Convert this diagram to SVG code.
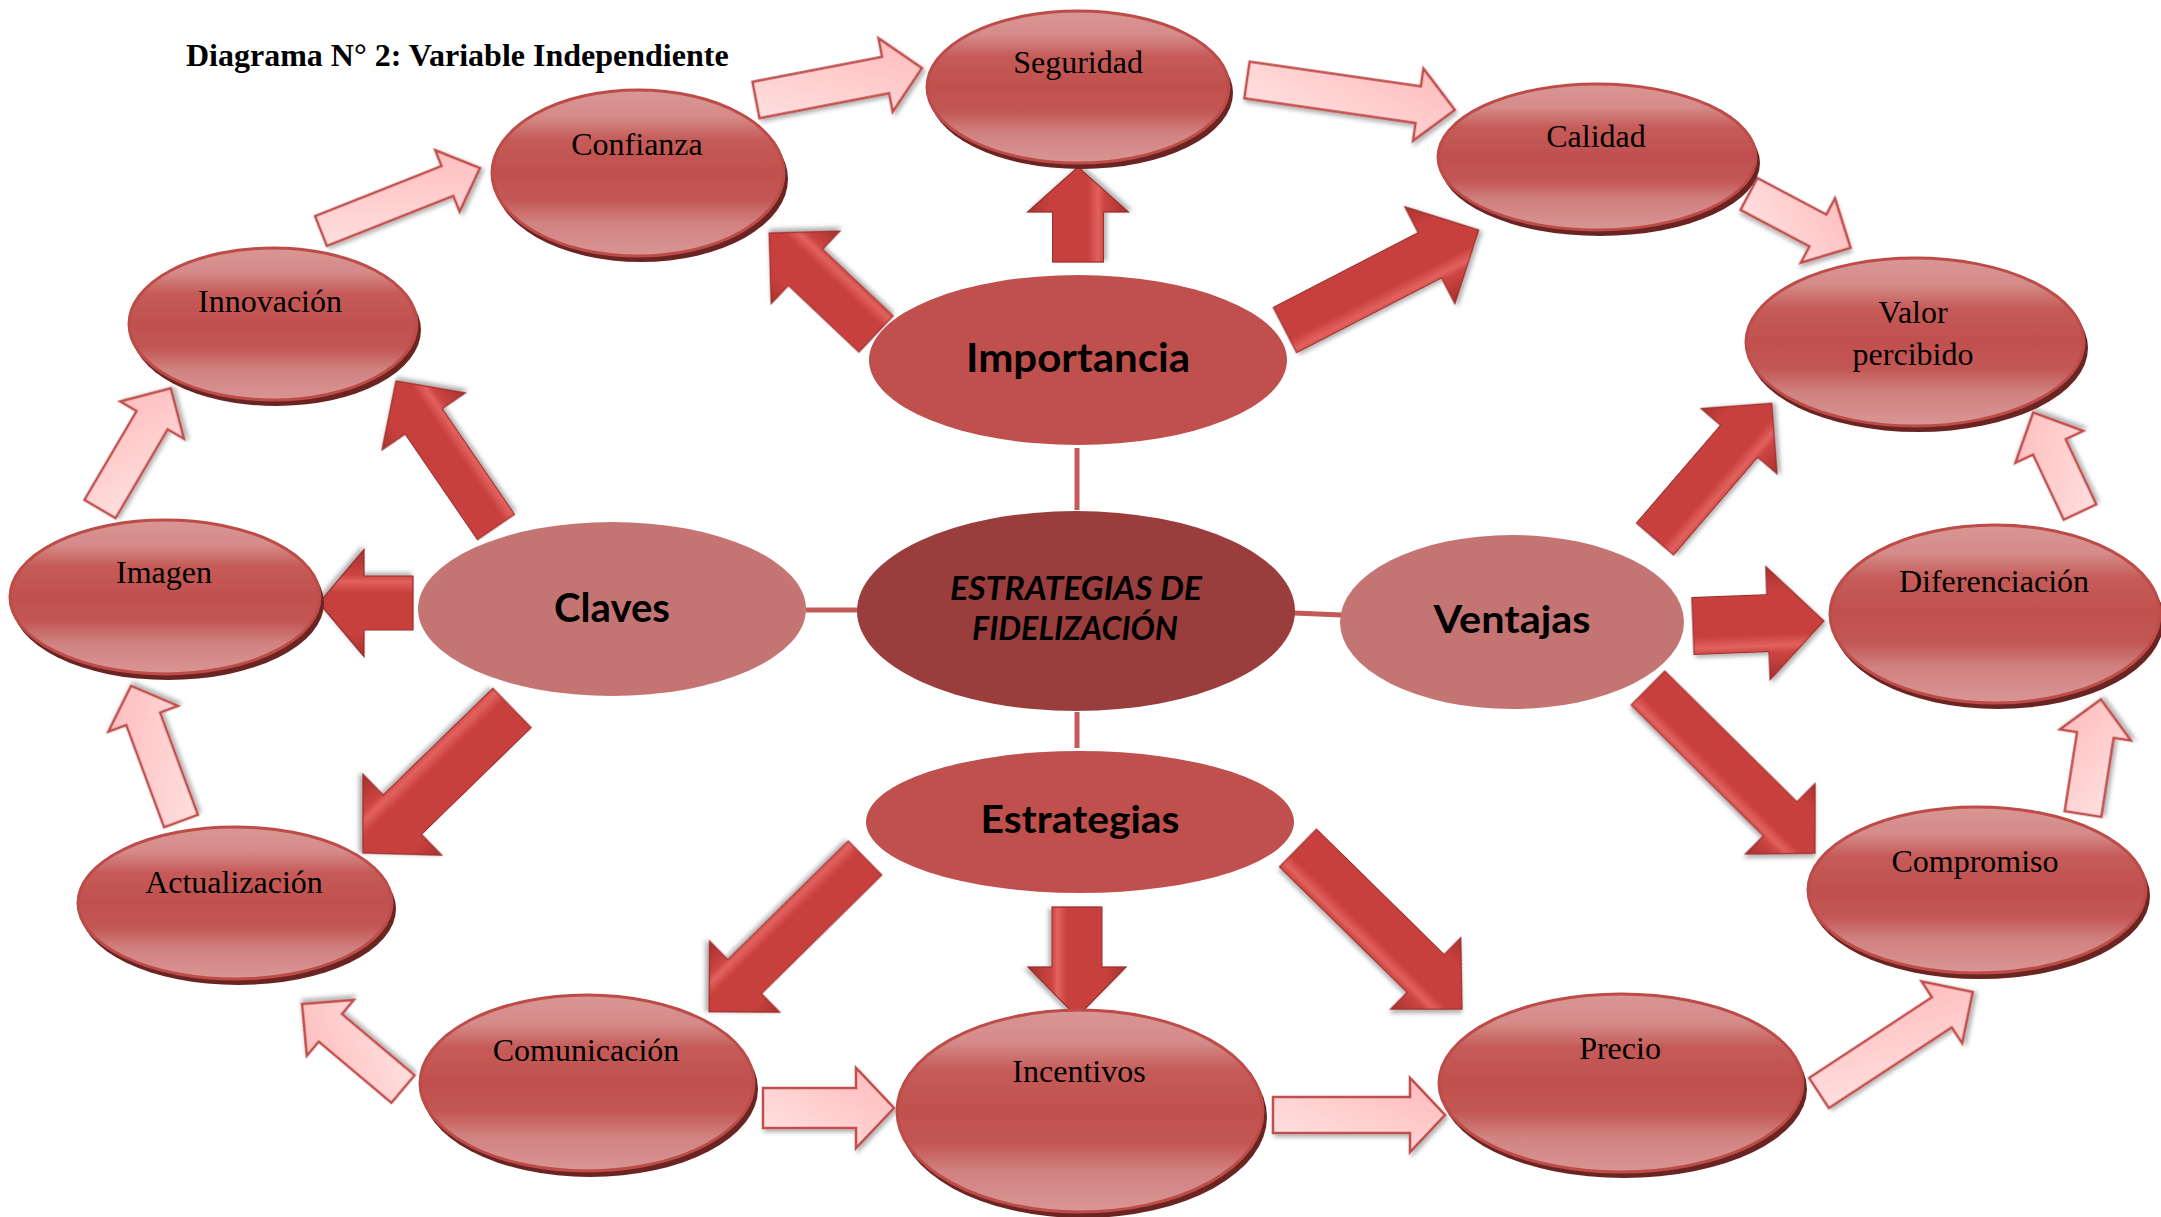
<svg xmlns="http://www.w3.org/2000/svg" width="2161" height="1217" viewBox="0 0 2161 1217">
  <defs>
    <!-- glossy band shading for the outer concept ellipses -->
    <linearGradient id="gOuter" x1="0" y1="0" x2="0" y2="1">
      <stop offset="0" stop-color="#d99694"/>
      <stop offset="0.16" stop-color="#d58b89"/>
      <stop offset="0.3" stop-color="#c55b58"/>
      <stop offset="0.5" stop-color="#c0504d"/>
      <stop offset="0.66" stop-color="#c35754"/>
      <stop offset="0.8" stop-color="#d08280"/>
      <stop offset="1" stop-color="#d99694"/>
    </linearGradient>
    <!-- pale arrows of the outer ring -->
    <linearGradient id="gLight" x1="0" y1="1" x2="1" y2="0">
      <stop offset="0" stop-color="#ffe4e4"/>
      <stop offset="1" stop-color="#ffb9b9"/>
    </linearGradient>
    <!-- bevelled block arrows -->
    <linearGradient id="gDark" x1="0" y1="0" x2="0" y2="1">
      <stop offset="0" stop-color="#a93330"/>
      <stop offset="0.22" stop-color="#c8403d"/>
      <stop offset="0.6" stop-color="#c8403d"/>
      <stop offset="0.7" stop-color="#e2625f"/>
      <stop offset="0.76" stop-color="#cc4542"/>
      <stop offset="1" stop-color="#a5302e"/>
    </linearGradient>
    <filter id="shadow" x="-20%" y="-20%" width="140%" height="140%">
      <feDropShadow dx="2" dy="3" stdDeviation="2" flood-color="#000" flood-opacity="0.3"/>
    </filter>
    <style>
      .outer { fill: url(#gOuter); stroke: #bd4b48; stroke-width: 3; }
      .rim { fill: #6a2422; }
      .hub { stroke: none; }
      .light { fill: url(#gLight); stroke: #c0504d; stroke-width: 2.5; stroke-linejoin: miter; filter: url(#shadow); }
      .dark { fill: url(#gDark); stroke: #9a2e2c; stroke-width: 1.2; filter: url(#shadow); }
      .link { stroke: #c35a57; stroke-width: 5; fill: none; }
      .lbl { font-family: "Liberation Serif", "Times New Roman", serif; font-size: 32px; fill: #000; text-anchor: middle; }
      .hubtxt { font-family: Lato, "Open Sans", sans-serif; font-weight: bold; fill: #000; text-anchor: middle; }
      .title { font-family: "Liberation Serif", "Times New Roman", serif; font-weight: bold; font-size: 32px; fill: #000; }
    </style>
  </defs>

  <rect width="2161" height="1217" fill="#ffffff"/>

  <text class="title" x="186" y="66">Diagrama N° 2: Variable Independiente</text>

  <!-- connectors: hub links, block arrows and ring arrows -->
  <g id="connectors">
    <line class="link" x1="1077" y1="448" x2="1077" y2="510"/>
    <line class="link" x1="1077" y1="712" x2="1077" y2="748"/>
    <line class="link" x1="806" y1="610" x2="858" y2="610"/>
    <line class="link" x1="1294" y1="613" x2="1342" y2="615"/>

    <!-- ring arrows -->
    <path class="light" transform="translate(321,231) rotate(-21.6)" d="M0,-16 H136 V-33 L171,0 L136,33 V16 H0 Z"/>
    <path class="light" transform="translate(756,100) rotate(-10.9)" d="M0,-18.5 H132 V-37.5 L169,0 L132,37.5 V18.5 H0 Z"/>
    <path class="light" transform="translate(1247,80) rotate(8.2)" d="M0,-18.5 H173 V-36.5 L210,0 L173,36.5 V18.5 H0 Z"/>
    <path class="light" transform="translate(1749,194) rotate(27.9)" d="M0,-18 H78 V-36.5 L115,0 L78,36.5 V18 H0 Z"/>
    <path class="light" transform="translate(2080,512) rotate(-115.2)" d="M0,-18 H72 V-37.5 L110,0 L72,37.5 V18 H0 Z"/>
    <path class="light" transform="translate(2083,814) rotate(-81.1)" d="M0,-18.5 H80 V-36 L116,0 L80,36 V18.5 H0 Z"/>
    <path class="light" transform="translate(1819,1093) rotate(-33.3)" d="M0,-18 H147 V-37 L184,0 L147,37 V18 H0 Z"/>
    <path class="light" transform="translate(1273,1115)" d="M0,-18 H137 V-37 L172,0 L137,37 V18 H0 Z"/>
    <path class="light" transform="translate(763,1108)" d="M0,-20 H93 V-40 L131,0 L93,40 V20 H0 Z"/>
    <path class="light" transform="translate(403,1089) rotate(-139.9)" d="M0,-18 H95 V-36.5 L132,0 L95,36.5 V18 H0 Z"/>
    <path class="light" transform="translate(181,821) rotate(-110.3)" d="M0,-18 H109 V-37 L144,0 L109,37 V18 H0 Z"/>
    <path class="light" transform="translate(100,509) rotate(-59.6)" d="M0,-18 H103 V-37 L140,0 L103,37 V18 H0 Z"/>

    <!-- block arrows from the hubs -->
    <path class="dark" transform="translate(876,334) rotate(-136.6)" d="M0,-25 H97 V-50 L147,0 L97,50 V25 H0 Z"/>
    <path class="dark" transform="translate(1078,262) rotate(-90)" d="M0,-25.5 H50 V-50.5 L95,0 L50,50.5 V25.5 H0 Z"/>
    <path class="dark" transform="translate(1285,330) rotate(-27.3)" d="M0,-25.5 H163 V-54.5 L218,0 L163,54.5 V25.5 H0 Z"/>
    <path class="dark" transform="translate(496,527) rotate(-124.4)" d="M0,-22.5 H128 V-50.5 L177,0 L128,50.5 V22.5 H0 Z"/>
    <path class="dark" transform="translate(413,603) rotate(180)" d="M0,-27 H49 V-53.5 L94,0 L49,53.5 V27 H0 Z"/>
    <path class="dark" transform="translate(512,708) rotate(135.8)" d="M0,-27.5 H153 V-56.5 L208,0 L153,56.5 V27.5 H0 Z"/>
    <path class="dark" transform="translate(865,858) rotate(135.4)" d="M0,-24 H169 V-50 L219,0 L169,50 V24 H0 Z"/>
    <path class="dark" transform="translate(1077,907) rotate(90)" d="M0,-25 H60 V-49 L110,0 L60,49 V25 H0 Z"/>
    <path class="dark" transform="translate(1298,848) rotate(44.5)" d="M0,-26.5 H179 V-50 L230,0 L179,50 V26.5 H0 Z"/>
    <path class="dark" transform="translate(1655,539) rotate(-49.3)" d="M0,-24.5 H129 V-50 L179,0 L129,50 V24.5 H0 Z"/>
    <path class="dark" transform="translate(1693,626) rotate(-2.2)" d="M0,-28.5 H75 V-56.5 L131,0 L75,56.5 V28.5 H0 Z"/>
    <path class="dark" transform="translate(1648,688) rotate(44.7)" d="M0,-24 H186 V-49.5 L235,0 L186,49.5 V24 H0 Z"/>
  </g>

  <!-- hubs -->
  <g id="importancia">
    <ellipse class="hub" cx="1078" cy="360" rx="209" ry="85" fill="#c0504d"/>
    <text class="hubtxt" x="1078" y="372" font-size="40" textLength="224" lengthAdjust="spacingAndGlyphs">Importancia</text>
  </g>
  <g id="claves">
    <ellipse class="hub" cx="612" cy="609" rx="194" ry="87" fill="#c47573"/>
    <text class="hubtxt" x="612" y="622" font-size="40" textLength="116" lengthAdjust="spacingAndGlyphs">Claves</text>
  </g>
  <g id="estrategias-fidelizacion">
    <ellipse class="hub" cx="1076" cy="611" rx="219" ry="100" fill="#9a3e3d"/>
    <text class="hubtxt" x="1076" y="600" font-size="32" font-style="italic" textLength="252" lengthAdjust="spacingAndGlyphs">ESTRATEGIAS DE</text>
    <text class="hubtxt" x="1075" y="640" font-size="32" font-style="italic" textLength="206" lengthAdjust="spacingAndGlyphs">FIDELIZACIÓN</text>
  </g>
  <g id="ventajas">
    <ellipse class="hub" cx="1512" cy="622" rx="172" ry="87" fill="#c47573"/>
    <text class="hubtxt" x="1512" y="633" font-size="38" textLength="157" lengthAdjust="spacingAndGlyphs">Ventajas</text>
  </g>
  <g id="estrategias">
    <ellipse class="hub" cx="1080" cy="822" rx="214" ry="71" fill="#c0504d"/>
    <text class="hubtxt" x="1080" y="833" font-size="38" textLength="199" lengthAdjust="spacingAndGlyphs">Estrategias</text>
  </g>

  <!-- outer ring concepts -->
  <g id="seguridad">
    <ellipse class="rim" cx="1081" cy="93" rx="152" ry="76"/>
    <ellipse class="outer" cx="1078" cy="87" rx="151" ry="76"/>
    <text class="lbl" x="1078" y="73">Seguridad</text>
  </g>
  <g id="confianza">
    <ellipse class="rim" cx="641" cy="179" rx="147" ry="83"/>
    <ellipse class="outer" cx="638" cy="173" rx="146" ry="83"/>
    <text class="lbl" x="637" y="155">Confianza</text>
  </g>
  <g id="calidad">
    <ellipse class="rim" cx="1600" cy="163" rx="160" ry="73"/>
    <ellipse class="outer" cx="1597" cy="157" rx="159" ry="73"/>
    <text class="lbl" x="1596" y="147">Calidad</text>
  </g>
  <g id="valor-percibido">
    <ellipse class="rim" cx="1918" cy="348" rx="170" ry="84"/>
    <ellipse class="outer" cx="1915" cy="342" rx="169" ry="84"/>
    <text class="lbl" x="1913" y="323">Valor</text>
    <text class="lbl" x="1913" y="365">percibido</text>
  </g>
  <g id="innovacion">
    <ellipse class="rim" cx="276" cy="330" rx="145" ry="76"/>
    <ellipse class="outer" cx="273" cy="324" rx="144" ry="76"/>
    <text class="lbl" x="270" y="312">Innovación</text>
  </g>
  <g id="imagen">
    <ellipse class="rim" cx="168" cy="603" rx="156" ry="77"/>
    <ellipse class="outer" cx="165" cy="597" rx="155" ry="77"/>
    <text class="lbl" x="164" y="583">Imagen</text>
  </g>
  <g id="diferenciacion">
    <ellipse class="rim" cx="1998" cy="620" rx="166" ry="89"/>
    <ellipse class="outer" cx="1995" cy="614" rx="165" ry="89"/>
    <text class="lbl" x="1994" y="592">Diferenciación</text>
  </g>
  <g id="actualizacion">
    <ellipse class="rim" cx="238" cy="909" rx="158" ry="76"/>
    <ellipse class="outer" cx="235" cy="903" rx="157" ry="76"/>
    <text class="lbl" x="234" y="893">Actualización</text>
  </g>
  <g id="compromiso">
    <ellipse class="rim" cx="1980" cy="896" rx="170" ry="83"/>
    <ellipse class="outer" cx="1977" cy="890" rx="169" ry="83"/>
    <text class="lbl" x="1975" y="872">Compromiso</text>
  </g>
  <g id="comunicacion">
    <ellipse class="rim" cx="590" cy="1089" rx="168" ry="88"/>
    <ellipse class="outer" cx="587" cy="1083" rx="167" ry="88"/>
    <text class="lbl" x="586" y="1061">Comunicación</text>
  </g>
  <g id="incentivos">
    <ellipse class="rim" cx="1083" cy="1117" rx="184" ry="101"/>
    <ellipse class="outer" cx="1080" cy="1111" rx="183" ry="101"/>
    <text class="lbl" x="1079" y="1082">Incentivos</text>
  </g>
  <g id="precio">
    <ellipse class="rim" cx="1624" cy="1089" rx="183" ry="89"/>
    <ellipse class="outer" cx="1621" cy="1083" rx="182" ry="89"/>
    <text class="lbl" x="1620" y="1059">Precio</text>
  </g>
</svg>
